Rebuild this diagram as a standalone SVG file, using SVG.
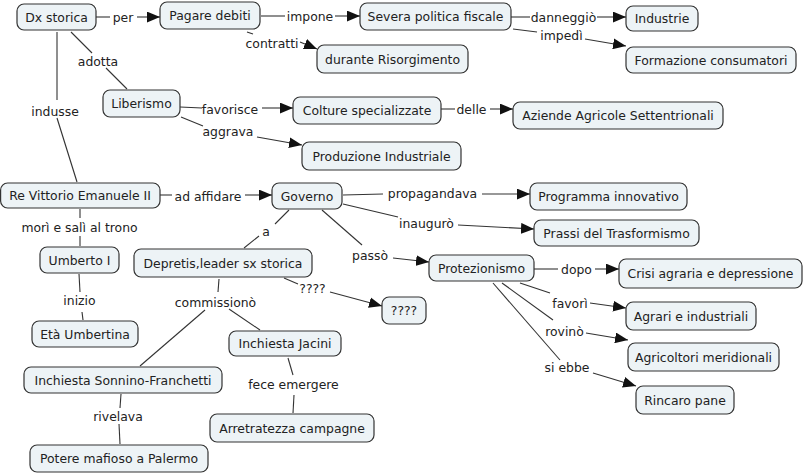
<svg xmlns="http://www.w3.org/2000/svg" width="803" height="473" viewBox="0 0 803 473">
<defs>
<style>
.n rect{fill:#edf3f6;stroke:#333;stroke-width:1.2}
text{font-family:"DejaVu Sans",Verdana,sans-serif;font-size:12.4px;fill:#222;text-anchor:middle}
.c path{fill:none;stroke:#333;stroke-width:1.1}
.c path.a{marker-end:url(#ah)}
</style>
<marker id="ah" markerUnits="userSpaceOnUse" markerWidth="13" markerHeight="11" refX="12" refY="5" orient="auto" viewBox="0 0 12 10">
<path d="M0,0 L12,5 L0,10 z" fill="#111"/>
</marker>
</defs>
<rect width="803" height="473" fill="#fff"/>
<g class="c" id="connectors">
<path d="M96,17 L110,17"/><path class="a" d="M137,17 L160,17"/>
<path d="M261,16 L285,16"/><path class="a" d="M335,16 L360,16"/>
<path d="M247,32 L253,34"/><path class="a" d="M300,42 L317,49"/>
<path d="M511,17 L530,17"/><path class="a" d="M597,17 L626,17"/>
<path d="M513,29 L537,32"/><path class="a" d="M585,39 L626,46"/>
<path d="M71,32 L92,53"/><path d="M106,68 L127,89"/>
<path d="M180,107 L202,108"/><path class="a" d="M262,108 L293,108"/>
<path d="M181,117 L203,126"/><path class="a" d="M257,137 L302,145"/>
<path d="M441,109 L455,109"/><path class="a" d="M490,109 L513,109"/>
<path d="M57,32 L57,100"/><path d="M57,118 L77,182"/>
<path d="M160,195 L172,195"/><path class="a" d="M245,195 L272,195"/>
<path d="M343,195 L383,194"/><path class="a" d="M482,194 L530,194"/>
<path d="M343,204 L398,217"/><path class="a" d="M458,225 L534,229"/>
<path d="M322,210 L362,245"/><path class="a" d="M393,258 L429,262"/>
<path d="M289,210 L275,224"/><path d="M259,236 L244,248"/>
<path d="M284,278 L298,284"/><path class="a" d="M330,292 L382,306"/>
<path d="M219,279 L218,292"/><path d="M205,310 L140,366"/><path d="M229,309 L260,330"/>
<path d="M80,209 L80,218"/><path d="M80,236 L80,246"/>
<path d="M79,274 L80,292"/><path d="M82,312 L83,320"/>
<path d="M121,394 L120,408"/><path d="M119,424 L120,444"/>
<path d="M288,358 L293,375"/><path d="M294,395 L293,413"/>
<path d="M534,269 L558,269"/><path class="a" d="M595,269 L619,269"/>
<path d="M520,283 L550,293"/><path class="a" d="M590,303 L626,308"/>
<path d="M502,283 L553,320"/><path class="a" d="M586,333 L628,340"/>
<path d="M493,283 L560,360"/><path class="a" d="M593,373 L636,386"/>
</g>
<g id="labels">
<text x="123" y="21.5">per</text>
<text x="310" y="20.5">impone</text>
<text x="272" y="47.5">contratti</text>
<text x="563.5" y="21.5">danneggiò</text>
<text x="561.5" y="39.5">impedì</text>
<text x="98" y="65.5">adotta</text>
<text x="230" y="113.5">favorisce</text>
<text x="228" y="135.5">aggrava</text>
<text x="471.5" y="113.5">delle</text>
<text x="55" y="115.5">indusse</text>
<text x="208" y="200.5">ad affidare</text>
<text x="432.5" y="197.5">propagandava</text>
<text x="426.5" y="227.5">inaugurò</text>
<text x="370" y="259.5">passò</text>
<text x="266" y="235.5">a</text>
<text x="312.5" y="292.5">????</text>
<text x="215.5" y="306.5">commissionò</text>
<text x="79.5" y="231.5">morì e salì al trono</text>
<text x="79.5" y="304.5">inizio</text>
<text x="118" y="420.5">rivelava</text>
<text x="293.5" y="388.5">fece emergere</text>
<text x="576.5" y="273.5">dopo</text>
<text x="570" y="307.5">favorì</text>
<text x="564.5" y="335.5">rovinò</text>
<text x="567" y="371.5">si ebbe</text>
</g>
<g class="n" id="n1"><rect x="17" y="4" width="79" height="26" rx="7"/><text x="56.5" y="21.5">Dx storica</text></g>
<g class="n" id="n2"><rect x="160" y="2" width="100" height="27" rx="7"/><text x="210" y="20">Pagare debiti</text></g>
<g class="n" id="n3"><rect x="360" y="3" width="151" height="27" rx="7"/><text x="435.5" y="21">Severa politica fiscale</text></g>
<g class="n" id="n4"><rect x="626" y="6" width="72" height="25" rx="7"/><text x="662" y="23">Industrie</text></g>
<g class="n" id="n5"><rect x="626" y="47" width="170" height="26" rx="7"/><text x="711" y="64.5">Formazione consumatori</text></g>
<g class="n" id="n6"><rect x="317" y="45" width="151" height="28" rx="7"/><text x="392.5" y="63.5">durante Risorgimento</text></g>
<g class="n" id="n7"><rect x="103" y="90" width="77" height="27" rx="7"/><text x="141.5" y="108">Liberismo</text></g>
<g class="n" id="n8"><rect x="293" y="97" width="148" height="27" rx="7"/><text x="367" y="115">Colture specializzate</text></g>
<g class="n" id="n9"><rect x="513" y="102" width="210" height="27" rx="7"/><text x="618" y="120">Aziende Agricole Settentrionali</text></g>
<g class="n" id="n10"><rect x="302" y="142" width="159" height="28" rx="7"/><text x="381.5" y="160.5">Produzione Industriale</text></g>
<g class="n" id="n11"><rect x="0.6" y="183" width="159.4" height="25" rx="7"/><text x="80" y="200">Re Vittorio Emanuele II</text></g>
<g class="n" id="n12"><rect x="272" y="183" width="70" height="26" rx="7"/><text x="307" y="200.5">Governo</text></g>
<g class="n" id="n13"><rect x="530" y="183" width="157" height="27" rx="7"/><text x="608.5" y="201">Programma innovativo</text></g>
<g class="n" id="n14"><rect x="534" y="220" width="165" height="26" rx="7"/><text x="616.5" y="237.5">Prassi del Trasformismo</text></g>
<g class="n" id="n15"><rect x="429" y="255" width="105" height="26" rx="7"/><text x="481.5" y="272.5">Protezionismo</text></g>
<g class="n" id="n16"><rect x="619" y="259" width="183" height="29" rx="7"/><text x="710.5" y="278">Crisi agraria e depressione</text></g>
<g class="n" id="n17"><rect x="40" y="247" width="79" height="26" rx="7"/><text x="79.5" y="264.5">Umberto I</text></g>
<g class="n" id="n18"><rect x="134" y="249" width="178" height="28" rx="7"/><text x="223" y="267.5">Depretis,leader sx storica</text></g>
<g class="n" id="n19"><rect x="382" y="297" width="44" height="27" rx="7"/><text x="404" y="315">????</text></g>
<g class="n" id="n20"><rect x="626" y="302" width="130" height="28" rx="7"/><text x="691" y="320.5">Agrari e industriali</text></g>
<g class="n" id="n21"><rect x="32" y="321" width="106" height="26" rx="7"/><text x="85" y="338.5">Età Umbertina</text></g>
<g class="n" id="n22"><rect x="229" y="331" width="112" height="25" rx="7"/><text x="285" y="348">Inchiesta Jacini</text></g>
<g class="n" id="n23"><rect x="24" y="367" width="198" height="26" rx="7"/><text x="123" y="384.5">Inchiesta Sonnino-Franchetti</text></g>
<g class="n" id="n24"><rect x="628" y="343" width="151" height="28" rx="7"/><text x="703.5" y="361.5">Agricoltori meridionali</text></g>
<g class="n" id="n25"><rect x="636" y="386" width="98" height="28" rx="7"/><text x="685" y="404.5">Rincaro pane</text></g>
<g class="n" id="n26"><rect x="210" y="414" width="164" height="28" rx="7"/><text x="292" y="432.5">Arretratezza campagne</text></g>
<g class="n" id="n27"><rect x="30" y="445" width="178" height="27" rx="7"/><text x="119" y="463">Potere mafioso a Palermo</text></g>
</svg>
